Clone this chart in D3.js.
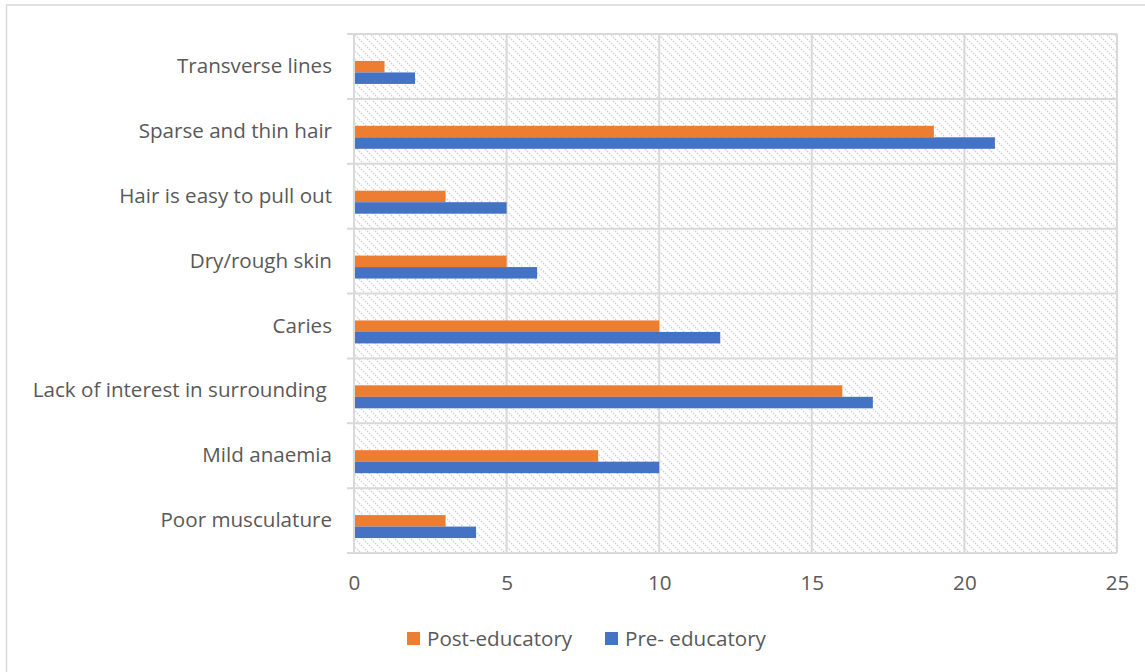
<!DOCTYPE html>
<html><head><meta charset="utf-8">
<script src="https://cdn.jsdelivr.net/npm/d3@7"></script>
<style>body{margin:0;background:#fff;} svg{display:block;}</style>
</head><body>
<script>
const categories = ["Transverse lines","Sparse and thin hair","Hair is easy to pull out","Dry/rough skin","Caries","Lack of interest in surrounding ","Mild anaemia","Poor musculature"];
const postValues = [1,19,3,5,10,16,8,3];
const preValues = [2,21,5,6,12,17,10,4];
const seriesNames = ["Post-educatory","Pre- educatory"];
const xTicks = [0,5,10,15,20,25];

const W=1145,H=672;
const m={left:354,right:28,top:34,bottom:119};
const svg=d3.select("body").append("svg").attr("width",W).attr("height",H);
const font="'Open Sans', sans-serif";
const fs=20.6;
const txt="#595959", grid="#d9d9d9";
const colors=["#ed7d31","#4472c4"];

// frame
svg.append("rect").attr("x",6.5).attr("y",5).attr("width",W+10).attr("height",H+10)
  .attr("fill","none").attr("stroke",grid).attr("stroke-width",1.5);

const defs=svg.append("defs");
const pat=defs.append("pattern").attr("id","hatch").attr("patternUnits","userSpaceOnUse")
  .attr("width",8).attr("height",8);
pat.append("path").attr("d","M-1,-1 L9,9 M-9,-1 L1,9 M7,-1 L17,9").attr("stroke","#d4d4d4").attr("stroke-width",1.6).attr("stroke-dasharray","1.5,1.3");

const x=d3.scaleLinear().domain([0,25]).range([m.left,W-m.right]);
const y=d3.scaleBand().domain(categories).range([m.top,H-m.bottom]);

svg.append("rect").attr("x",m.left).attr("y",m.top).attr("width",x(25)-m.left).attr("height",H-m.bottom-m.top).attr("fill","url(#hatch)");

// vertical grid
svg.append("g").selectAll("line").data(xTicks).join("line")
  .attr("x1",d=>x(d)).attr("x2",d=>x(d)).attr("y1",m.top).attr("y2",H-m.bottom)
  .attr("stroke",grid).attr("stroke-width",2);
// horizontal grid incl. ticks
const bounds=categories.map(c=>y(c)).concat([H-m.bottom]);
svg.append("g").selectAll("line").data(bounds).join("line")
  .attr("x1",m.left-7).attr("x2",x(25)).attr("y1",d=>d).attr("y2",d=>d)
  .attr("stroke",grid).attr("stroke-width",2);

// x axis labels
const xa=svg.append("g").attr("transform",`translate(0,${H-m.bottom})`)
  .call(d3.axisBottom(x).tickValues(xTicks).tickSize(0).tickPadding(22));
xa.select(".domain").remove();
xa.selectAll("text").attr("font-family",font).attr("font-size",fs).attr("fill",txt);

// y labels
const ya=svg.append("g").attr("transform",`translate(${m.left},0)`)
  .call(d3.axisLeft(y).tickSize(0).tickPadding(22));
ya.select(".domain").remove();
ya.selectAll("text").attr("font-family",font).attr("font-size",fs).attr("fill",txt).style("white-space","pre");

const bh=11.5, off=6;
const gb=svg.append("g");
gb.selectAll(".post").data(categories).join("rect")
  .attr("x",x(0)+1).attr("y",(d,i)=>y(d)+y.bandwidth()/2+off-bh)
  .attr("width",(d,i)=>x(postValues[i])-x(0)-1).attr("height",bh).attr("fill",colors[0]);
gb.selectAll(".pre").data(categories).join("rect")
  .attr("x",x(0)+1).attr("y",(d,i)=>y(d)+y.bandwidth()/2+off)
  .attr("width",(d,i)=>x(preValues[i])-x(0)-1).attr("height",bh).attr("fill",colors[1]);

// legend
const lg=svg.append("g");
const lx=[407,605];
seriesNames.forEach((n,i)=>{
  lg.append("rect").attr("x",lx[i]).attr("y",632).attr("width",13).attr("height",13).attr("fill",colors[i]);
  lg.append("text").attr("x",lx[i]+20).attr("y",638.5).attr("dy","0.35em").attr("font-family",font)
    .attr("font-size",fs).attr("fill",txt).text(n);
});
</script>
</body></html>
